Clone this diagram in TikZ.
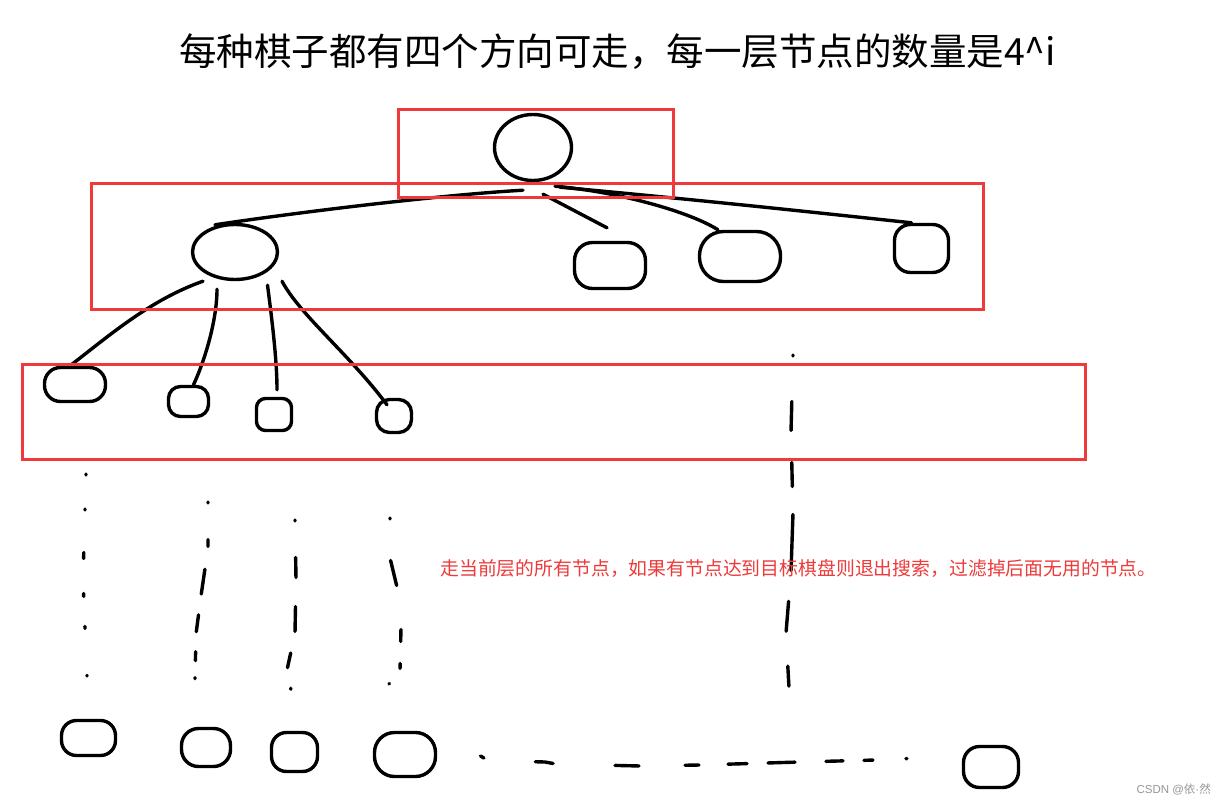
\documentclass[tikz,border=0pt]{standalone}
\usepackage{fontspec}
\newfontfamily\cjk{Noto Sans CJK SC}
\newfontfamily\latinsans{Liberation Sans}
\usetikzlibrary{shapes.geometric}
\definecolor{boxred}{RGB}{238,58,58}
\definecolor{wmgray}{RGB}{150,150,150}
\tikzset{
  ink/.style={line width=3.4pt, line cap=round, line join=round, black},
  oval/.style={ellipse, draw, line width=3.4pt, inner sep=0pt},
  blob/.style={rectangle, draw, line width=3.4pt, inner sep=0pt, rounded corners=#1},
  groupbox/.style={draw=boxred, line width=3pt},
}
\begin{document}
\begin{tikzpicture}[x=1pt,y=-1pt]
\useasboundingbox (0,0) rectangle (1223,805);
\fill[white] (0,0) rectangle (1223,805);

% title
\node[font=\cjk\fontsize{37.5}{44}\selectfont, inner sep=0pt] (title) at (617.5,52) {每种棋子都有四个方向可走，每一层节点的数量是4\^{}i};

% nodes
\node[oval, minimum width=77pt, minimum height=66pt] (root) at (533,147.5) {};
\node[oval, minimum width=85pt, minimum height=55pt] (A) at (235,252) {};
\node[blob=18pt, minimum width=71pt, minimum height=46pt] (B) at (610,265.5) {};
\node[blob=24pt, minimum width=81pt, minimum height=50pt] (C) at (740,256.5) {};
\node[blob=16pt, minimum width=54pt, minimum height=48pt] (D) at (921.5,248.5) {};
\node[blob=16pt, minimum width=61pt, minimum height=34pt] (E) at (75,384.5) {};
\node[blob=12pt, minimum width=40pt, minimum height=30pt] (F) at (188.5,401.5) {};
\node[blob=9pt, minimum width=35pt, minimum height=32pt] (G) at (274,414.5) {};
\node[blob=13pt, minimum width=35pt, minimum height=33pt] (H) at (394,416) {};
\node[blob=15pt, minimum width=54pt, minimum height=35pt] (I) at (88.5,738) {};
\node[blob=17pt, minimum width=49pt, minimum height=38pt] (J) at (206,747.5) {};
\node[blob=15pt, minimum width=46pt, minimum height=39pt] (K) at (294.5,752) {};
\node[blob=20pt, minimum width=61pt, minimum height=44pt] (L) at (405,754.5) {};
\node[blob=16pt, minimum width=55pt, minimum height=41pt] (M) at (991,767) {};

% root to level 1
\draw[ink] ([shift={(-10,8)}]root.south) .. controls (440,195) and (300,212) .. ([shift={(-20,2)}]A.north);
\draw[ink] ([shift={(27,5)}]root.south) .. controls (700,200) and (820,213) .. ([xshift=-10pt]D.north);
\draw[ink] ([shift={(22,4)}]root.south) .. controls (620,192) and (690,212) .. ([xshift=-22pt]C.north);
\draw[ink] ([shift={(10,12)}]root.south) -- ([shift={(-3,-13)}]B.north);

% A to level 2
\draw[ink] ([xshift=-32pt]A.south) .. controls (150,300) and (110,335) .. ([xshift=-5pt]E.north);
\draw[ink, shorten <=8pt] ([xshift=-18pt]A.south) .. controls (217,320) and (205,360) .. ([xshift=5pt]F.north);
\draw[ink, shorten <=4pt, shorten >=7pt] ([xshift=32pt]A.south) .. controls (272,320) and (277,360) .. ([xshift=3pt]G.north);
\draw[ink] ([xshift=47pt]A.south) .. controls (300,315) and (350,355) .. ([shift={(-7,7)}]H.north);

% dashed continuations (free ends)
\coordinate (e1) at (86,474);   \coordinate (i1) at (87,676);
\coordinate (f1) at (208,502);  \coordinate (j1) at (195,679);
\coordinate (g1) at (295,520);  \coordinate (k1) at (291,690);
\coordinate (h1) at (390,518);  \coordinate (l1) at (389,684);
\coordinate (r1) at (793,355);  \coordinate (r2) at (789,688);
\coordinate (b1) at (480.5,756); \coordinate (b2) at (909,758.5);

\draw[ink, dash pattern=on 1pt off 34pt on 1pt off 42.5pt on 6pt off 35pt on 3pt off 30pt on 2pt off 47pt on 1pt off 50pt]
  (e1) -- (83,580) -- (i1);
\draw[ink, dash pattern=on 1pt off 36.5pt on 7pt off 23pt on 25pt off 21pt on 17pt off 20pt on 9pt off 17pt on 1pt off 50pt]
  (f1) -- (208,548) -- (201,596) -- (196,634) -- (j1);
\draw[ink, dash pattern=on 1pt off 36.5pt on 20pt off 29pt on 25pt off 22pt on 15pt off 21pt on 1pt off 50pt]
  (g1) -- (296,579) -- (295,633) -- (287,670) -- (k1);
\draw[ink, dash pattern=on 1pt off 41.5pt on 25.8pt off 44.2pt on 12pt off 22pt on 5pt off 18.7pt on 1pt off 50pt]
  (h1) -- (390,558) -- (397,587) -- (401,628) -- (400,670) -- (l1);
\draw[ink, dash pattern=on 1pt off 45.5pt on 29pt off 32pt on 24pt off 28pt on 56pt off 31pt on 30pt off 35pt on 20pt off 50pt]
  (r1) -- (791,432) -- (793,513) -- (791,572) -- (786,633) -- (r2);
\draw[ink, dash pattern=on 4pt off 52pt on 18pt off 62pt on 24pt off 46pt on 14pt off 29pt on 19pt off 21pt on 27pt off 31pt on 17pt off 21pt on 9pt off 33pt on 1pt off 50pt]
  (b1) -- (488,760.5) -- (545,762) -- (556,764) -- (640,766) -- (700,765) -- (800,762) -- (876,760) -- (b2);

% red group boxes
\draw[groupbox] (398,110) rectangle (673,198);
\draw[groupbox] (91,184) rectangle (983,309);
\draw[groupbox] (22,364) rectangle (1085,459);

% note
\node[font=\cjk\fontsize{18.85}{23}\selectfont, text=boxred, inner sep=0pt] (note) at (798.5,568) {走当前层的所有节点，如果有节点达到目标棋盘则退出搜索，过滤掉后面无用的节点。};

% watermark
\node[font=\cjk\fontsize{11.5}{14}\selectfont, text=wmgray, inner sep=0pt, anchor=east] (wm) at (1211,789) {{\latinsans CSDN @}依{\latinsans ·}然};
\end{tikzpicture}
\end{document}
